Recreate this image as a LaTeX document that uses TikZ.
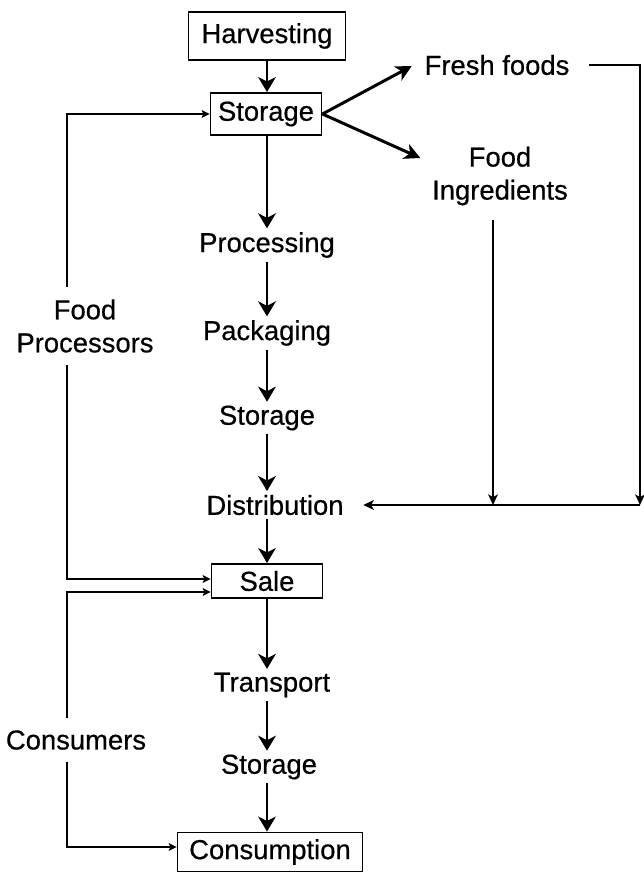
\documentclass[tikz,border=0pt]{standalone}
\usepackage{fontspec}
\setmainfont{Liberation Sans}[FakeBold=0.5]
\usetikzlibrary{arrows.meta,calc}

\begin{document}
\begin{tikzpicture}[
        x=0.02cm, y=-0.02cm,
        every node/.style={font=\fontsize{15.6}{18.8}\selectfont, align=center, inner sep=2pt},
        stagebox/.style={draw, line width=1.1pt},
        sidelabel/.style={inner ysep=7pt},
        mainflow/.style={draw, line width=1.7pt, -{Stealth[length=8.5pt, width=10pt, inset=2.5pt]}},
        splitflow/.style={draw, line width=1.7pt, -{Stealth[length=9pt, width=9pt, inset=2.5pt]}},
        backflow/.style={draw, line width=1pt, -{Stealth[length=4.5pt, width=4.5pt, inset=1pt]}},
        supplyflow/.style={draw, line width=1pt, -{Stealth[length=6pt, width=5.5pt, inset=1.5pt]}},
    ]
    \useasboundingbox (0,0) rectangle (643,875);

    % main chain
    \node[stagebox, minimum width=3.14cm, minimum height=0.96cm](harv) at (267,36){Harvesting};
    \node[stagebox, minimum width=2.22cm, minimum height=0.84cm](stor1) at (266,114){Storage};
    \node[](proc) at (267,245){Processing};
    \node[](pack) at (267,333){Packaging};
    \node[](stor2) at (267,418){Storage};
    \node[](dist) at (275,505){Distribution};
    \node[stagebox, minimum width=2.22cm, minimum height=0.68cm](sale) at (267,581){Sale};
    \node[](trans) at (272,685){Transport};
    \node[](stor3) at (269,767){Storage};
    \node[stagebox, minimum width=3.7cm, minimum height=0.78cm](cons) at (270,852){Consumption};

    % branches
    \node[](fresh) at (497,65){Fresh foods};
    \node[](ingr) at (500,176){Food\\Ingredients};
    \node[sidelabel](fproc) at (85,326){Food\\Processors};
    \node[sidelabel](consm) at (76,740){Consumers};

    \coordinate (col) at (267,0);
    \coordinate (lft) at (67,0);
    \coordinate (ingx) at (493,0);
    \coordinate (rgt) at (640,0);

    \draw[mainflow] (harv.south -| col) -- (stor1.north -| col);
    \draw[mainflow] (stor1.south -| col) -- (proc.north -| col);
    \draw[mainflow] (proc.south -| col) -- (pack.north -| col);
    \draw[mainflow] (pack.south -| col) -- (stor2.north -| col);
    \draw[mainflow] (stor2.south -| col) -- (dist.north -| col);
    \draw[mainflow] (dist.south -| col) -- (sale.north -| col);
    \draw[mainflow] (sale.south -| col) -- (trans.north -| col);
    \draw[mainflow] (trans.south -| col) -- (stor3.north -| col);
    \draw[mainflow] (stor3.south -| col) -- (cons.north -| col);

    \draw[splitflow] (stor1.east) -- ($(fresh.west)+(-9,1)$);
    \draw[splitflow] (stor1.east) -- ($(ingr.west)+(-8,-18)$);

    \draw[backflow] (fproc.north -| lft) |- (stor1.west);
    \draw[backflow] (fproc.south -| lft) |- ($(sale.west)+(0,-2)$);
    \draw[backflow] (consm.north -| lft) |- ($(sale.west)+(0,11)$);
    \draw[backflow] (consm.south -| lft) |- ($(cons.west)+(0,-5)$);

    \draw[supplyflow, shorten <=6pt] (ingr.south -| ingx) -- (dist.east -| ingx);
    \draw[supplyflow, shorten <=9pt] (fresh.east) -- (fresh.east -| rgt) -- (dist.east -| rgt);
    \draw[supplyflow, shorten >=9pt] (dist.east -| rgt) -- (dist.east);

\end{tikzpicture}
\end{document}
